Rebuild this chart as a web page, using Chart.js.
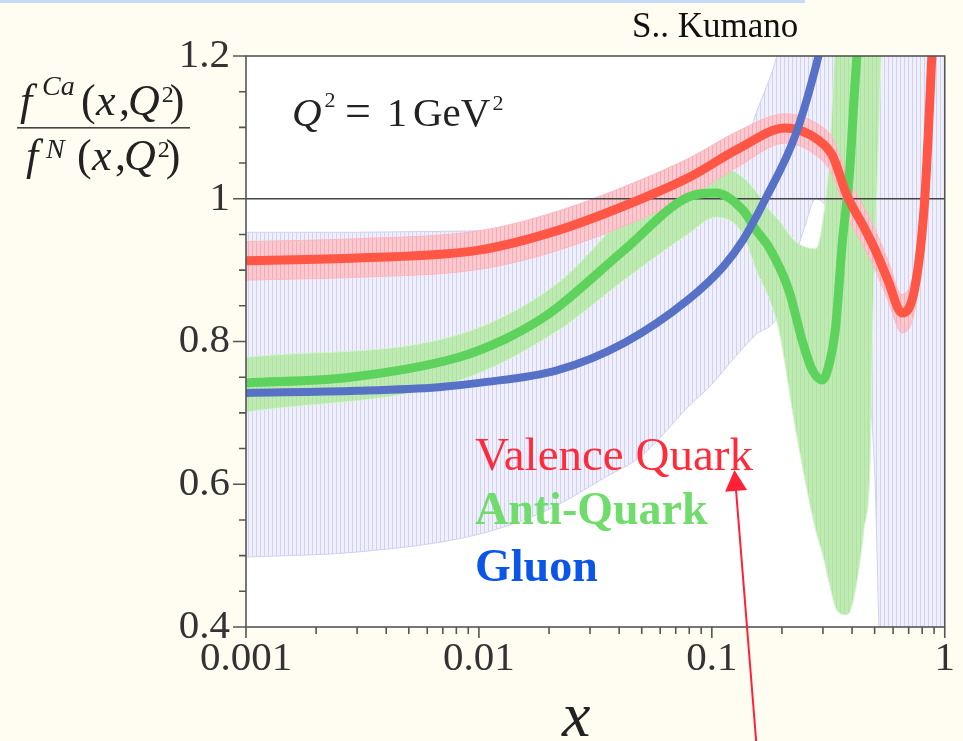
<!DOCTYPE html>
<html lang="en">
<head>
<meta charset="UTF-8">
<title>f^Ca / f^N at Q2 = 1 GeV2</title>
<style>
  html, body { margin: 0; padding: 0; background: #fffdf2; }
  #wrap { width: 963px; height: 741px; }
</style>
</head>
<body>
<div id="wrap"><canvas id="myChart" width="963" height="741"></canvas></div>
<script src="https://cdn.jsdelivr.net/npm/chart.js"></script>
<script>
// ---- axes ----
const xTickLabels = ['0.001', '0.01', '0.1', '1'];
const xMinorTicks = [0.002, 0.003, 0.004, 0.005, 0.006, 0.007, 0.008, 0.009,
                     0.02, 0.03, 0.04, 0.05, 0.06, 0.07, 0.08, 0.09,
                     0.2, 0.3, 0.4, 0.5, 0.6, 0.7, 0.8, 0.9];
const yTickLabels = ['0.4', '0.6', '0.8', '1', '1.2'];
const yMinorTicks = [0.45, 0.5, 0.55, 0.65, 0.7, 0.75, 0.85, 0.9, 0.95, 1.05, 1.1, 1.15];

// ---- valence quark ----
const valenceX  = [0.001, 0.003, 0.01, 0.022, 0.05, 0.08, 0.13, 0.207, 0.287, 0.33, 0.38, 0.45, 0.5, 0.57, 0.655, 0.745, 0.82, 0.88, 0.92];
const valence   = [0.913, 0.917, 0.928, 0.956, 1.0, 1.03, 1.07, 1.099, 1.082, 1.06, 1.005, 0.96, 0.93, 0.886, 0.84, 0.876, 0.998, 1.2, 1.35];
const valenceLo = [0.886, 0.890, 0.901, 0.928, 0.972, 1.003, 1.045, 1.078, 1.058, 1.033, 0.977, 0.932, 0.902, 0.858, 0.812, 0.846, 0.965, 1.16, 1.31];
const valenceHi = [0.940, 0.944, 0.955, 0.983, 1.027, 1.057, 1.095, 1.119, 1.104, 1.085, 1.033, 0.988, 0.958, 0.914, 0.866, 0.906, 1.03, 1.24, 1.39];

// ---- anti-quark ----
const antiX = [0.001, 0.0028, 0.0082, 0.0129, 0.0178, 0.0218, 0.042, 0.0787, 0.104, 0.136, 0.155, 0.176, 0.214, 0.245, 0.27, 0.298, 0.32, 0.339, 0.364, 0.39, 0.41, 0.43];
const anti  = [0.742, 0.75, 0.778, 0.803, 0.828, 0.848, 0.928, 1.002, 1.008, 0.984, 0.956, 0.932, 0.872, 0.80, 0.76, 0.746, 0.77, 0.816, 0.942, 1.036, 1.152, 1.25];
const antiBandX = [0.001, 0.0082, 0.0218, 0.042, 0.0787, 0.104, 0.136, 0.155, 0.176, 0.194, 0.229, 0.279, 0.30, 0.32, 0.339, 0.36, 0.374, 0.40, 0.45, 0.478, 0.49, 0.51, 0.545];
const antiLo = [0.701, 0.745, 0.815, 0.886, 0.95, 0.974, 0.95, 0.90, 0.86, 0.816, 0.676, 0.536, 0.50, 0.46, 0.428, 0.418, 0.417, 0.43, 0.536, 0.63, 0.816, 1.0, 1.3];
const antiHi = [0.778, 0.81, 0.882, 0.974, 1.04, 1.047, 1.03, 1.01, 0.985, 0.97, 0.94, 0.93, 0.97, 1.06, 1.22, 1.3, 1.3, 1.3, 1.3, 1.3, 1.3, 1.3, 1.3];

// ---- gluon ----
const gluonX = [0.001, 0.003, 0.0067, 0.01, 0.0218, 0.042, 0.0787, 0.112, 0.136, 0.17, 0.229, 0.287, 0.31];
const gluon  = [0.728, 0.731, 0.736, 0.742, 0.76, 0.798, 0.858, 0.905, 0.942, 1.0, 1.09, 1.2, 1.25];
const gluonBandX = [0.001, 0.003, 0.01, 0.02, 0.035, 0.05, 0.08, 0.1, 0.127, 0.155, 0.19, 0.22, 0.25, 0.28, 0.32, 0.38, 0.45, 0.5, 0.53, 0.6, 1.0];
const gluonLo = [0.498, 0.505, 0.53, 0.565, 0.61, 0.64, 0.71, 0.74, 0.78, 0.81, 0.834, 0.90, 0.96, 1.0, 0.98, 0.90, 0.80, 0.62, 0.35, 0.3, 0.3];
const gluonHi = [0.953, 0.953, 0.955, 0.955, 0.95, 0.95, 0.98, 1.0, 1.04, 1.12, 1.2, 1.3, 1.3, 1.3, 1.3, 1.3, 1.3, 1.3, 1.3, 1.3, 1.3];

const unityX = [0.001, 1];
const unity  = [1, 1];

// annotation arrow, in data coordinates
const arrowTip  = { x: 0.125, y: 0.62 };
const arrowTail = { x: 0.155, y: 0.24 };

const SERIF = '"Liberation Serif", "Times New Roman", serif';

function stripes(bg, line, period) {
    const c = document.createElement('canvas');
    c.width = period; c.height = 8;
    const g = c.getContext('2d');
    g.fillStyle = bg; g.fillRect(0, 0, period, 8);
    g.fillStyle = line; g.fillRect(0, 0, 1, 8);
    return g.createPattern(c, 'repeat');
}

const pts = (xs, ys) => xs.map((x, i) => ({ x: x, y: ys[i] }));

function curve(xs, ys, color, width, order) {
    return { data: pts(xs, ys), borderColor: color, borderWidth: width, pointRadius: 0,
             fill: false, cubicInterpolationMode: 'monotone', order: order };
}
function edge(xs, ys, color, order, fillTo, bg) {
    return { data: pts(xs, ys), borderColor: color, borderWidth: 1, pointRadius: 0,
             fill: fillTo === undefined ? false : fillTo, backgroundColor: bg || 'transparent',
             cubicInterpolationMode: 'monotone', order: order };
}

const blueHatch  = stripes('#f0f0fd', '#d1d1f5', 4);
const pinkHatch  = stripes('#fbc9cf', '#f5abb6', 4);
const greenHatch = stripes('#bfeab3', '#afe3a2', 4);

const datasets = [
    curve(gluonX, gluon, '#5671c6', 8, 1),              // 0
    curve(valenceX, valence, '#ff5645', 9, 2),          // 1
    curve(antiX, anti, '#5dd35d', 9, 3),                // 2
    { data: pts(unityX, unity), borderColor: '#444', borderWidth: 1.3, pointRadius: 0, fill: false, order: 4 }, // 3
    edge(valenceX, valenceLo, '#fbb8c0', 5),            // 4
    edge(valenceX, valenceHi, '#fbb8c0', 5, 4, pinkHatch),   // 5
    edge(antiBandX, antiLo, '#d8f4d0', 6),              // 6
    edge(antiBandX, antiHi, '#d8f4d0', 6, 6, greenHatch),    // 7
    edge(gluonBandX, gluonLo, '#cfd0f2', 7),            // 8
    edge(gluonBandX, gluonHi, '#cfd0f2', 7, 8, blueHatch)    // 9
];

function txt(ctx, s, x, y, font, color) {
    ctx.font = font; ctx.fillStyle = color;
    ctx.textAlign = 'left'; ctx.textBaseline = 'alphabetic';
    ctx.fillText(s, x, y);
    return x + ctx.measureText(s).width;
}

const decor = {
    id: 'decor',
    beforeDraw(chart) {
        const { ctx, chartArea: a, width, height } = chart;
        ctx.save();
        ctx.fillStyle = '#fffdf2';
        ctx.fillRect(0, 0, width, height);
        ctx.fillStyle = '#ffffff';
        ctx.fillRect(a.left, a.top, a.right - a.left, a.bottom - a.top);
        ctx.fillStyle = '#c6dbf7';
        ctx.fillRect(0, 0, 805, 3);
        ctx.restore();
    },
    afterDatasetsDraw(chart) {
        const { ctx, chartArea: a, scales: { x, y } } = chart;
        ctx.save();
        ctx.strokeStyle = '#555';
        ctx.lineWidth = 1.6;
        ctx.strokeRect(a.left, a.top, a.right - a.left, a.bottom - a.top);
        ctx.beginPath();
        yTickLabels.forEach(l => { const p = y.getPixelForValue(parseFloat(l)); ctx.moveTo(a.left - 13, p); ctx.lineTo(a.left, p); });
        yMinorTicks.forEach(v => { const p = y.getPixelForValue(v); ctx.moveTo(a.left - 7, p); ctx.lineTo(a.left, p); });
        xTickLabels.forEach(l => { const p = x.getPixelForValue(parseFloat(l)); ctx.moveTo(p, a.bottom); ctx.lineTo(p, a.bottom + 11); });
        xMinorTicks.forEach(v => { const p = x.getPixelForValue(v); ctx.moveTo(p, a.bottom); ctx.lineTo(p, a.bottom + 7); });
        ctx.stroke();
        ctx.restore();
    },
    afterDraw(chart) {
        const { ctx, scales: { x, y } } = chart;
        ctx.save();
        const ink = '#222';
        txt(ctx, 'S.. Kumano', 632, 37, '35px ' + SERIF, '#111');

        // Q^2 = 1 GeV^2
        let e = txt(ctx, 'Q', 292, 126, 'italic 41px ' + SERIF, ink);
        txt(ctx, '2', e + 3, 107, '22px ' + SERIF, ink);
        txt(ctx, '=', 345, 126, '46px ' + SERIF, ink);
        txt(ctx, '1', 387, 126, '40px ' + SERIF, ink);
        e = txt(ctx, 'GeV', 413, 126, '41px ' + SERIF, ink);
        txt(ctx, '2', e + 2, 110, '22px ' + SERIF, ink);

        // y axis label as fraction
        const big = '44px ' + SERIF, bigI = 'italic 44px ' + SERIF;
        txt(ctx, 'f', 20, 115, bigI, ink);
        txt(ctx, 'Ca', 42, 95, 'italic 28px ' + SERIF, ink);
        txt(ctx, '(', 81, 115, big, ink);
        txt(ctx, 'x', 96, 115, bigI, ink);
        txt(ctx, ',', 119, 115, big, ink);
        e = txt(ctx, 'Q', 128, 115, bigI, ink);
        txt(ctx, '2', e + 2, 102, '24px ' + SERIF, ink);
        txt(ctx, ')', e + 10, 115, big, ink);
        ctx.fillStyle = '#444';
        ctx.fillRect(17, 127, 173, 1.6);
        txt(ctx, 'f', 26, 170, bigI, ink);
        txt(ctx, 'N', 46, 158, 'italic 28px ' + SERIF, ink);
        txt(ctx, '(', 77, 170, big, ink);
        txt(ctx, 'x', 92, 170, bigI, ink);
        txt(ctx, ',', 115, 170, big, ink);
        e = txt(ctx, 'Q', 124, 170, bigI, ink);
        txt(ctx, '2', e + 2, 157, '24px ' + SERIF, ink);
        txt(ctx, ')', e + 10, 170, big, ink);

        // legend text
        txt(ctx, 'Valence Quark', 475, 470, '47px ' + SERIF, '#ff2b3a');
        txt(ctx, 'Anti-Quark', 475, 524, 'bold 46px ' + SERIF, '#70dc6c');
        txt(ctx, 'Gluon', 475, 581, 'bold 46px ' + SERIF, '#0b55e8');

        // x axis title
        txt(ctx, 'x', 562, 736, 'italic 64px ' + SERIF, ink);

        // red arrow
        const tx = x.getPixelForValue(arrowTip.x), ty = y.getPixelForValue(arrowTip.y);
        const bx = x.getPixelForValue(arrowTail.x), by = y.getPixelForValue(arrowTail.y);
        const ang = Math.atan2(ty - by, tx - bx);
        ctx.strokeStyle = '#ff2236'; ctx.fillStyle = '#ff2236'; ctx.lineWidth = 2;
        ctx.beginPath();
        ctx.moveTo(bx, by);
        ctx.lineTo(tx - 18 * Math.cos(ang), ty - 18 * Math.sin(ang));
        ctx.stroke();
        ctx.beginPath();
        ctx.moveTo(tx, ty);
        ctx.lineTo(tx - 21 * Math.cos(ang) + 11 * Math.sin(ang), ty - 21 * Math.sin(ang) - 11 * Math.cos(ang));
        ctx.lineTo(tx - 21 * Math.cos(ang) - 11 * Math.sin(ang), ty - 21 * Math.sin(ang) + 11 * Math.cos(ang));
        ctx.closePath();
        ctx.fill();
        ctx.restore();
    }
};

const ctx = document.getElementById('myChart').getContext('2d');
const myChart = new Chart(ctx, {
    type: 'line',
    data: { datasets: datasets },
    plugins: [decor],
    options: {
        responsive: false,
        animation: false,
        events: [],
        layout: { padding: { left: 0, right: 13, top: 56, bottom: 0 } },
        plugins: { legend: { display: false }, tooltip: { enabled: false } },
        scales: {
            x: {
                type: 'logarithmic', min: 0.001, max: 1,
                grid: { display: false, drawTicks: false }, border: { display: false },
                ticks: {
                    autoSkip: false, maxRotation: 0, padding: 8, color: '#333',
                    font: { family: SERIF, size: 41 },
                    callback: v => {
                        const l = Math.log10(v);
                        return Math.abs(l - Math.round(l)) < 1e-6 ? xTickLabels[Math.round(l) + 3] : '';
                    }
                },
                afterFit: s => { s.height = 114; }
            },
            y: {
                min: 0.4, max: 1.2,
                grid: { display: false, drawTicks: false }, border: { display: false },
                ticks: {
                    stepSize: 0.2, padding: 16, color: '#333',
                    font: { family: SERIF, size: 41 },
                    callback: v => yTickLabels.find(l => Math.abs(parseFloat(l) - v) < 1e-6) || ''
                },
                afterFit: s => { s.width = 246; }
            }
        }
    }
});
</script>
</body>
</html>
